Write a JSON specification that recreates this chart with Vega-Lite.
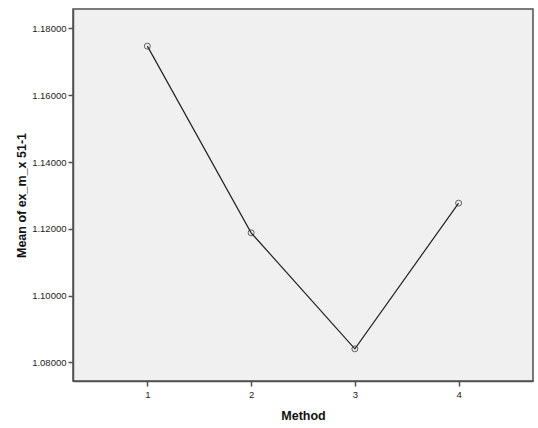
{
  "$schema": "https://vega.github.io/schema/vega-lite/v6.json",
  "autosize": {"type": "none"},
  "width": 460,
  "height": 372,
  "padding": {"left": 73, "top": 9, "right": 5, "bottom": 47},
  "background": "#ffffff",
  "data": {"values": [
    {"Method": 1, "mean": 1.17471},
    {"Method": 2, "mean": 1.1188},
    {"Method": 3, "mean": 1.08404},
    {"Method": 4, "mean": 1.12768}
  ]},
  "config": {
    "view": {"fill": "#f0f0f0", "stroke": "#505050", "strokeWidth": 1.5},
    "axis": {
      "labelFont": "Liberation Sans",
      "titleFont": "Liberation Sans",
      "labelFontSize": 9.5,
      "labelColor": "#222222",
      "titleFontSize": 12.5,
      "titleFontWeight": "bold",
      "titleColor": "#111111",
      "domainColor": "#505050",
      "domainWidth": 1.5,
      "tickColor": "#505050",
      "tickWidth": 1.5,
      "tickSize": 5,
      "grid": false
    }
  },
  "encoding": {
    "x": {
      "field": "Method",
      "type": "quantitative",
      "scale": {"domain": [0.283, 4.717], "nice": false, "zero": false},
      "axis": {"values": [1, 2, 3, 4], "format": "d", "labelPadding": 3, "titlePadding": 11, "title": "Method"}
    },
    "y": {
      "field": "mean",
      "type": "quantitative",
      "scale": {"domain": [1.07441, 1.18583], "nice": false, "zero": false},
      "axis": {"values": [1.08, 1.10, 1.12, 1.14, 1.16, 1.18], "format": ".5f", "labelPadding": 2, "titlePadding": 3, "title": "Mean of ex_m_x 51-1"}
    }
  },
  "layer": [
    {"mark": {"type": "line", "color": "#222222", "strokeWidth": 1.2}},
    {"mark": {"type": "point", "shape": "circle", "filled": false, "color": "#222222", "size": 36, "strokeWidth": 1}}
  ]
}
